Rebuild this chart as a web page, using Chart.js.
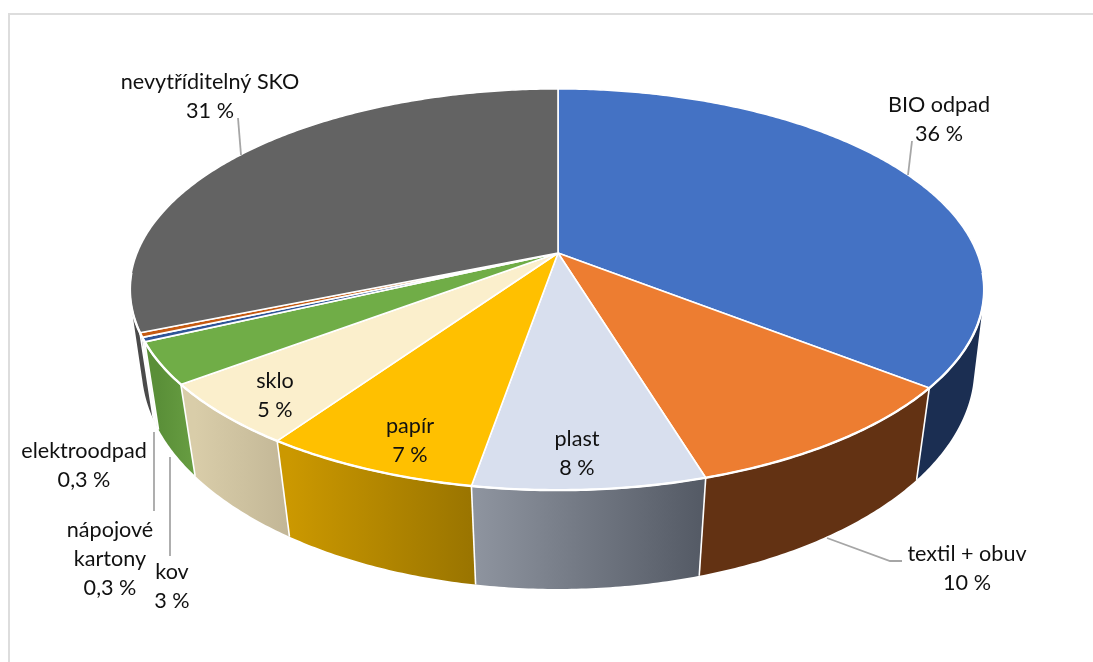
<!DOCTYPE html>
<html>
<head>
<meta charset="utf-8">
<style>
  html, body { margin: 0; padding: 0; background: #fff; }
  #wrap { position: relative; width: 1093px; height: 662px; overflow: hidden; }
  #chart { position: absolute; left: 0; top: 0; }
</style>
</head>
<body>
<div id="wrap"><canvas id="chart" width="1093" height="662"></canvas></div>
<script src="https://cdn.jsdelivr.net/npm/chart.js@4"></script>
<script>
var categories = ['BIO odpad', 'textil + obuv', 'plast', 'papír', 'sklo', 'kov', 'elektroodpad', ['nápojové', 'kartony'], 'nevytříditelný SKO'];
var shares = [35.6, 9.7, 7.4, 6.9, 5.1, 3.35, 0.35, 0.35, 31.25];
var shareLabels = ['36 %', '10 %', '8 %', '7 %', '5 %', '3 %', '0,3 %', '0,3 %', '31 %'];

var topColors = ['#4472C4', '#ED7D31', '#D8DFEE', '#FFC000', '#FBEFCC', '#70AD47', '#2F5597', '#C55A11', '#636363'];
var wallColors = [
    ['#1B2E52', '#1B2E52'], ['#633213', '#633213'], ['#8E949F', '#555B66'], ['#CB9800', '#997400'],
    ['#D9CDA9', '#C2B696'], ['#5A8F38', '#689E42'], ['#F2F2F2', '#F2F2F2'], ['#F2F2F2', '#F2F2F2'], ['#4A4A4A', '#4A4A4A']
];

// where the labels sit, centre of first line
var labelPos = [[939, 105], [967, 554], [577, 439], [410, 426], [275, 381], [172, 572], [84, 451], [110, 530], [210, 82]];
var lineHeight = 29;
var leaderLines = [
    [[912, 141], [908, 175]],
    [[827, 538], [890, 561], [902, 561]],
    [[154, 432], [154, 511]],
    [[170, 457], [170, 556]],
    [[238, 118], [241, 155]]
];

// perspective of the tilted disc: top rim and bottom rim
var cx = 558, cy = 253;
var rims = [
    { a: 420, b: 194, c: 0, k: 0.182, shift: -1 },
    { a: 411, b: 203.6, c: 78.6, k: 0.16, shift: 0 }
];

function project(angle, rim) {
    var u = Math.cos(angle), v = Math.sin(angle);
    var w = 1 - rim.k * v;
    return { x: cx + rim.shift * Math.abs(u) + rim.a * u / w, y: cy + (rim.b * v + rim.c) / w };
}

function addPolygon(ctx, pts) {
    pts.forEach(function (p, i) { if (i) ctx.lineTo(p.x, p.y); else ctx.moveTo(p.x, p.y); });
    ctx.closePath();
}

function signedArea(pts) {
    var sum = 0;
    pts.forEach(function (p, i) {
        var q = pts[(i + 1) % pts.length];
        sum += p.x * q.y - q.x * p.y;
    });
    return sum;
}

function angleSteps(from, to) {
    var list = [], steps = Math.max(2, Math.ceil((to - from) / 0.01));
    for (var i = 0; i <= steps; i++) list.push(from + (to - from) * i / steps);
    return list;
}

var pie3d = {
    id: 'pie3d',
    beforeDatasetDraw: function (chart, args) {
        var ctx = chart.ctx, arcs = args.meta.data;
        var lo = -0.1, hi = Math.PI + 0.1;
        ctx.save();
        ctx.lineJoin = 'round';
        // outer walls, only the part facing the viewer
        arcs.forEach(function (arc, i) {
            var from = Math.max(arc.startAngle, lo), to = Math.min(arc.endAngle, hi);
            if (to <= from) return;
            var angles = angleSteps(from, to);
            var xs = angles.map(function (t) { return project(t, rims[1]).x; });
            var grad = ctx.createLinearGradient(Math.min.apply(null, xs), 0, Math.max.apply(null, xs), 0);
            grad.addColorStop(0, wallColors[i][0]);
            grad.addColorStop(1, wallColors[i][1]);
            ctx.fillStyle = grad;
            // swept strip as one path, so the outline runs straight between the rims
            ctx.beginPath();
            for (var n = 0; n < angles.length - 1; n++) {
                var quad = [project(angles[n], rims[0]), project(angles[n + 1], rims[0]),
                    project(angles[n + 1], rims[1]), project(angles[n], rims[1])];
                if (signedArea(quad) < 0) quad.reverse();
                addPolygon(ctx, quad);
            }
            ctx.fill();
        });
        // white seams between the walls
        ctx.strokeStyle = '#fff';
        ctx.lineWidth = 1.6;
        arcs.forEach(function (arc) {
            if (arc.startAngle < lo || arc.startAngle > hi) return;
            var p = project(arc.startAngle, rims[0]), q = project(arc.startAngle, rims[1]);
            ctx.beginPath();
            ctx.moveTo(p.x, p.y);
            ctx.lineTo(q.x, q.y);
            ctx.stroke();
        });
        // top face
        arcs.forEach(function (arc, i) {
            var pts = [{ x: cx, y: cy }].concat(angleSteps(arc.startAngle, arc.endAngle).map(function (t) {
                return project(t, rims[0]);
            }));
            ctx.beginPath();
            addPolygon(ctx, pts);
            ctx.fillStyle = topColors[i];
            ctx.fill();
            ctx.strokeStyle = '#fff';
            ctx.lineWidth = 1.6;
            ctx.stroke();
        });
        // heavier white rim along the front
        ctx.lineWidth = 2.4;
        ctx.beginPath();
        angleSteps(0.1, Math.PI - 0.1).forEach(function (t, i) {
            var p = project(t, rims[0]);
            if (i) ctx.lineTo(p.x, p.y); else ctx.moveTo(p.x, p.y);
        });
        ctx.stroke();
        ctx.restore();
        return false;
    },
    afterDraw: function (chart) {
        var ctx = chart.ctx;
        ctx.save();
        // frame of the chart area
        ctx.strokeStyle = '#DDDDDD';
        ctx.lineWidth = 2;
        ctx.beginPath();
        ctx.moveTo(9, 662);
        ctx.lineTo(9, 14);
        ctx.lineTo(1093, 14);
        ctx.stroke();
        // leader lines
        ctx.strokeStyle = '#A6A6A6';
        ctx.lineWidth = 1.8;
        leaderLines.forEach(function (line) {
            ctx.beginPath();
            line.forEach(function (p, i) { if (i) ctx.lineTo(p[0], p[1]); else ctx.moveTo(p[0], p[1]); });
            ctx.stroke();
        });
        // labels
        ctx.fillStyle = '#111';
        ctx.font = '21.6px Lato';
        ctx.textAlign = 'center';
        ctx.textBaseline = 'middle';
        categories.forEach(function (name, i) {
            var lines = [].concat(name, shareLabels[i]);
            lines.forEach(function (text, j) {
                ctx.fillText(text, labelPos[i][0], labelPos[i][1] + j * lineHeight);
            });
        });
        ctx.restore();
    }
};

new Chart(document.getElementById('chart'), {
    type: 'pie',
    data: {
        labels: categories,
        datasets: [{ data: shares, backgroundColor: topColors, borderColor: '#fff' }]
    },
    options: {
        responsive: false,
        animation: false,
        plugins: { legend: { display: false }, tooltip: { enabled: false } }
    },
    plugins: [pie3d]
});
</script>
</body>
</html>
